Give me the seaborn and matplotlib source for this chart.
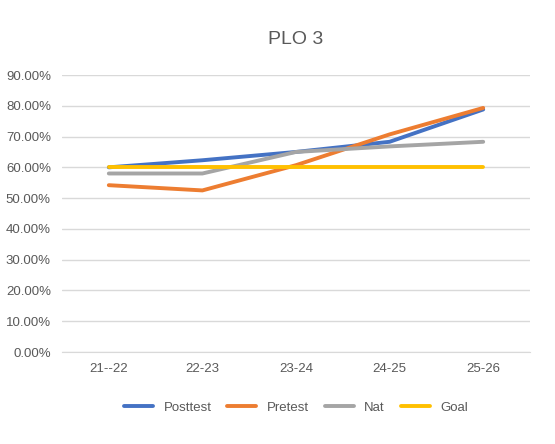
import matplotlib
matplotlib.use("Agg")
import matplotlib.pyplot as plt
import seaborn as sns
import pandas as pd
from matplotlib.ticker import FuncFormatter

years = ["21--22", "22-23", "23-24", "24-25", "25-26"]
posttest = [0.600, 0.623, 0.650, 0.683, 0.788]
pretest = [0.542, 0.525, 0.607, 0.707, 0.793]
nat = [0.580, 0.580, 0.650, 0.668, 0.683]
goal = [0.600, 0.600, 0.600, 0.600, 0.600]

df = pd.DataFrame({"Year": years, "Posttest": posttest, "Pretest": pretest,
                   "Nat": nat, "Goal": goal})
long = df.melt(id_vars="Year", var_name="Series", value_name="Value")

sns.set_style("white")
plt.rcParams['font.family'] = ['Liberation Sans', 'DejaVu Sans']

fig = plt.figure(figsize=(5.55, 4.44), dpi=100)
ax = fig.add_axes([62 / 555, 1 - 352 / 444, 468 / 555, 277 / 444])
palette = {"Posttest": "#4472C4", "Pretest": "#ED7D31", "Nat": "#A5A5A5", "Goal": "#FFC000"}
sns.lineplot(data=long, x="Year", y="Value", hue="Series", palette=palette,
             linewidth=2.8, ax=ax, sort=False)

ax.set_ylim(0, 0.9)
ax.set_yticks([i / 10 for i in range(10)])
ax.yaxis.set_major_formatter(FuncFormatter(lambda v, p: f"{v * 100:.2f}%"))
ax.set_xlim(-0.5, 4.5)
ax.grid(axis="y", color="#D9D9D9", linewidth=1)
ax.set_axisbelow(True)
for s in ["top", "right", "left"]:
    ax.spines[s].set_visible(False)
ax.spines["bottom"].set_color("#D9D9D9")
ax.tick_params(axis="both", length=0, labelsize=9.5, colors="#595959", pad=8)
ax.set_xlabel("")
ax.set_ylabel("")
ax.set_title("PLO 3", fontsize=14, color="#595959", pad=22)

ax.legend(loc="upper center", bbox_to_anchor=(0.5, -0.135), ncol=4, frameon=False,
          fontsize=9.5, handlelength=2.2, columnspacing=1.2, labelcolor="#595959")

fig.savefig("out.png", dpi=100)
